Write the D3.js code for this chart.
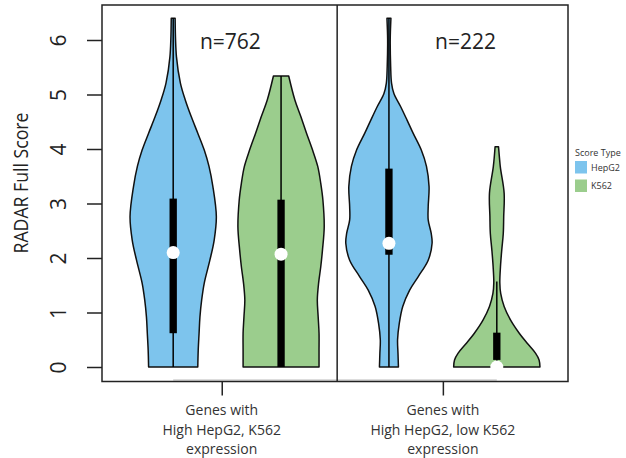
<!DOCTYPE html>
<html>
<head>
<meta charset="utf-8">
<script src="https://cdn.jsdelivr.net/npm/d3@7"></script>
<style>
  html, body { margin: 0; padding: 0; background: #fff; }
  svg { display: block; font-family: "Open Sans", "DejaVu Sans", sans-serif; }
</style>
</head>
<body>
<svg id="chart" width="626" height="458"></svg>
<script>
// ---------------- data ----------------
const yTicks = [0, 1, 2, 3, 4, 5, 6];
const seriesNames = ["HepG2", "K562"];
const seriesColors = ["#7dc4ed", "#9bcd8d"];
const groupLabels = [
  ["Genes with", "High HepG2, K562", "expression"],
  ["Genes with", "High HepG2, low K562", "expression"]
];
const groupTickPos = [1.45, 3.5];
const groupCounts = ["n=762", "n=222"];
const countPos = [1.53, 3.71];
const separatorPos = 2.52;

const violinPos = [1, 2, 3, 4];
const violinSeries = [0, 1, 0, 1];

// density profiles (score level, relative density)
const hepg2AScore = [0, 0.31, 0.62, 0.92, 1.23, 1.54, 1.96, 2.33, 2.76, 3.31, 3.68, 3.98, 4.29, 4.59, 4.90, 5.21, 5.69, 6.40];
const hepg2ADens  = [0.57, 0.58, 0.60, 0.62, 0.66, 0.72, 0.85, 0.95, 1.0, 0.92, 0.83, 0.72, 0.57, 0.42, 0.28, 0.167, 0.076, 0.045];

const k562AScore = [0, 0.31, 0.62, 0.92, 1.23, 1.54, 1.84, 2.15, 2.57, 3.06, 3.37, 3.68, 3.98, 4.29, 4.59, 4.90, 5.34];
const k562ADens  = [0.88, 0.88, 0.88, 0.86, 0.84, 0.87, 0.92, 0.96, 1.0, 0.97, 0.92, 0.85, 0.73, 0.59, 0.46, 0.32, 0.177];

const hepg2BScore = [0, 0.25, 0.50, 0.80, 1.11, 1.41, 1.66, 1.96, 2.27, 2.45, 2.70, 2.94, 3.31, 3.68, 3.98, 4.29, 4.53, 4.78, 5.02, 5.21, 5.51, 6.0, 6.40];
const hepg2BDens  = [0.22, 0.21, 0.20, 0.24, 0.32, 0.48, 0.68, 0.91, 1.0, 0.98, 0.91, 0.91, 0.93, 0.87, 0.75, 0.56, 0.42, 0.27, 0.115, 0.06, 0.04, 0.03, 0.046];

const k562BScore = [0, 0.13, 0.25, 0.43, 0.62, 0.86, 1.11, 1.35, 1.54, 1.84, 2.15, 2.45, 2.76, 3.19, 3.68, 4.04];
const k562BDens  = [1.0, 0.98, 0.90, 0.71, 0.52, 0.32, 0.17, 0.09, 0.07, 0.085, 0.115, 0.15, 0.16, 0.17, 0.08, 0.04];

// box summary per violin
const whiskerLow  = [0, 0, 0, 0];
const whiskerHigh = [6.40, 5.34, 6.40, 1.57];
const boxLow      = [0.62, 0, 2.06, 0.13];
const boxHigh     = [3.09, 3.07, 3.64, 0.63];
const medians     = [2.10, 2.07, 2.27, 0];

const violinScores = [hepg2AScore, k562AScore, hepg2BScore, k562BScore];
const violinDens   = [hepg2ADens, k562ADens, hepg2BDens, k562BDens];

// ---------------- chart ----------------
const svg = d3.select("#chart");
const x = d3.scaleLinear().domain([0.34, 4.66]).range([102, 568]);
const y = d3.scaleLinear().domain([0, 6]).range([367, 40]);
const halfW = 0.40;   // max half width in x units
const boxHalf = 0.034;

// violins
violinPos.forEach((p, i) => {
  const pts = violinScores[i].map((s, j) => ({ s, d: violinDens[i][j] }));
  const area = d3.area()
    .curve(d3.curveCatmullRom.alpha(0.5))
    .y(d => y(d.s))
    .x0(d => x(p - halfW * d.d))
    .x1(d => x(p + halfW * d.d));
  svg.append("path")
    .attr("d", area(pts))
    .attr("fill", seriesColors[violinSeries[i]])
    .attr("stroke", "#111")
    .attr("stroke-width", 1.5)
    .attr("stroke-linejoin", "round");
});

// whiskers
svg.selectAll(".whisker").data(violinPos).enter().append("line")
  .attr("x1", d => x(d)).attr("x2", d => x(d))
  .attr("y1", (d, i) => y(whiskerLow[i])).attr("y2", (d, i) => y(whiskerHigh[i]))
  .attr("stroke", "#000").attr("stroke-width", 1.5);

// boxes
svg.selectAll(".box").data(violinPos).enter().append("rect")
  .attr("x", d => x(d - boxHalf))
  .attr("width", d => x(d + boxHalf) - x(d - boxHalf))
  .attr("y", (d, i) => y(boxHigh[i]))
  .attr("height", (d, i) => y(boxLow[i]) - y(boxHigh[i]))
  .attr("fill", "#000");

// medians
svg.selectAll(".med").data(violinPos).enter().append("circle")
  .attr("cx", d => x(d)).attr("cy", (d, i) => y(medians[i]))
  .attr("r", 6.5).attr("fill", "#fff");

// light axis line along bottom
svg.append("line")
  .attr("x1", x(violinPos[0])).attr("x2", x(violinPos[violinPos.length - 1]))
  .attr("y1", 380).attr("y2", 380)
  .attr("stroke", "#bbb").attr("stroke-width", 1);

// frame
svg.append("rect")
  .attr("x", 102).attr("y", 5).attr("width", 568 - 102).attr("height", 381.5 - 5)
  .attr("fill", "none").attr("stroke", "#222").attr("stroke-width", 1.5);

// separator
svg.append("line")
  .attr("x1", x(separatorPos)).attr("x2", x(separatorPos))
  .attr("y1", 5).attr("y2", 381.5)
  .attr("stroke", "#222").attr("stroke-width", 1.5);

// y axis
const yAxis = svg.append("g")
  .attr("transform", "translate(102,0)")
  .call(d3.axisLeft(y).tickValues(yTicks).tickSize(15).tickFormat(d3.format("d")));
yAxis.select(".domain").remove();
yAxis.selectAll(".tick line").attr("stroke", "#222").attr("stroke-width", 1.5);
yAxis.selectAll(".tick text")
  .attr("x", 0).attr("y", 0).attr("dy", 0)
  .attr("transform", "translate(-36,0) rotate(-90)")
  .attr("text-anchor", "middle")
  .attr("fill", "#222")
  .style("font-size", "21px")
  .style("font-family", "'Open Sans', sans-serif");

svg.append("text")
  .attr("transform", "translate(28,183) rotate(-90)")
  .attr("text-anchor", "middle")
  .attr("fill", "#222")
  .attr("textLength", 141)
  .attr("lengthAdjust", "spacingAndGlyphs")
  .style("font-size", "20px")
  .text("RADAR Full Score");

// x axis
const xAxis = svg.append("g")
  .attr("transform", "translate(0,381.5)")
  .call(d3.axisBottom(x).tickValues(groupTickPos).tickSize(14).tickFormat(""));
xAxis.select(".domain").remove();
xAxis.selectAll(".tick line").attr("stroke", "#222").attr("stroke-width", 1.5);

groupTickPos.forEach((p, i) => {
  const t = svg.append("text")
    .attr("text-anchor", "middle")
    .attr("fill", "#333")
    .style("font-size", "14px");
  groupLabels[i].forEach((line, k) => {
    t.append("tspan").attr("x", x(p)).attr("y", 415 + k * 19.5).text(line);
  });
});

// counts
groupCounts.forEach((c, i) => {
  svg.append("text")
    .attr("x", x(countPos[i])).attr("y", 49)
    .attr("text-anchor", "middle")
    .attr("fill", "#222")
    .style("font-size", "21px")
    .text(c);
});

// legend
const lg = svg.append("g");
lg.append("text").attr("x", 575).attr("y", 156)
  .style("font-size", "9px").attr("fill", "#333").text("Score Type");
seriesNames.forEach((n, i) => {
  lg.append("rect").attr("x", 575).attr("y", 161 + i * 18.5)
    .attr("width", 12).attr("height", 12.5).attr("fill", seriesColors[i]);
  lg.append("text").attr("x", 591).attr("y", 170.5 + i * 18.5)
    .style("font-size", "9px").attr("fill", "#333").text(n);
});
</script>
</body>
</html>
